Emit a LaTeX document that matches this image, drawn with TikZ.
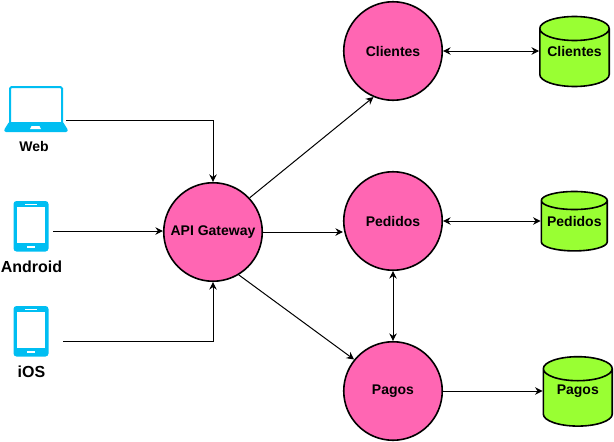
\documentclass[tikz,border=0pt]{standalone}
\usepackage{fontspec}
\setmainfont{Liberation Sans}
\usetikzlibrary{arrows.meta, calc}

\definecolor{iconblue}{HTML}{00BEF2}
\definecolor{servicepink}{HTML}{FF66B3}
\definecolor{dbgreen}{HTML}{99FF33}

\tikzset{
	laptopicon/.pic={
		\draw[iconblue, line width=2, fill=white, rounded corners=1.5] (-26,15) -- (-26,-22) -- (26,-22) -- (26,15);
		\fill[iconblue, rounded corners=1] (-32,21) -- (-27,13) -- (27,13) -- (32,21) -- (31,23) -- (-31,23) -- cycle;
		\fill[white] (-6,20) -- (-4.5,17) -- (3.5,17) -- (5,20) -- cycle;
	},
	phoneicon/.pic={
		\fill[iconblue, rounded corners=3] (-17.5,-25) rectangle (17.5,25.5);
		\fill[white] (-14,-19) rectangle (14,17);
		\fill[white] (-6,-22.5) rectangle (6,-21);
		\fill[white] (-4,20) rectangle (4,22);
	},
	dbase/.style={
		rectangle, inner sep=0, outer sep=0, font=\fontsize{14}{16}\bfseries,
		path picture={
			\draw[line width=1.6, black, fill=dbgreen]
			let \p1=([shift={(0.8,0.8)}]path picture bounding box.north west),
				\p2=([shift={(-0.8,-0.8)}]path picture bounding box.south east),
				\n1={(\x2-\x1)/2} in
			(\x1,\y1-#1pt) arc[start angle=180, end angle=0, x radius=\n1, y radius=#1pt]
			-- (\x2,\y2+#1pt) arc[start angle=0, end angle=-180, x radius=\n1, y radius=#1pt] -- cycle
			(\x2,\y1-#1pt) arc[start angle=0, end angle=-180, x radius=\n1, y radius=#1pt];
		}
	}
}

\begin{document}
\begin{tikzpicture}[x=1pt, y=-1pt, >={Stealth[length=7.5pt, width=7.5pt]}]
	\tikzstyle{service} = [line width=1.6, draw=black, fill=servicepink, circle, minimum size=98.5, inner sep=0, font=\fontsize{14}{16}\bfseries]
	\tikzstyle{device} = [draw=none, font=\fontsize{14}{16}\bfseries]
	\tikzstyle{devicebig} = [draw=none, font=\fontsize{16}{18}\bfseries]
	\tikzstyle{link} = [line width=1, black]

	\useasboundingbox (0,0) rectangle (614,442);

	\pic at (36,109) {laptopicon};
	\pic at (31,226) {phoneicon};
	\pic at (31,331) {phoneicon};

	\node[device]		at (34,146)		(web)		{Web};
	\node[devicebig]	at (31.5,267)	(android)	{Android};
	\node[devicebig]	at (31.5,372)	(ios)		{iOS};

	\coordinate (webout)		at (66,120);
	\coordinate (androidout)	at (53,231);
	\coordinate (iosout)		at (63,341);

	\node[service] at (213,232)	(gateway)	{API Gateway};
	\node[service] at (393,51)	(clientes)	{Clientes};
	\node[service] at (393,221)	(pedidos)	{Pedidos};
	\node[service] at (393,391)	(pagos)		{Pagos};

	\node[dbase=12, minimum width=71, minimum height=71.6] at (574.5,51.5)	(dbclientes)	{Clientes};
	\node[dbase=9, minimum width=67.5, minimum height=61] at (574.3,221.2)	(dbpedidos)		{Pedidos};
	\node[dbase=12, minimum width=70.5, minimum height=71] at (577.8,391.4)	(dbpagos)		{Pagos};

	\draw[link, ->] (webout) -| (gateway.north);
	\draw[link, ->] (androidout) -- (gateway.west |- androidout);
	\draw[link, ->] (iosout) -| (gateway.south);

	\path[link, ->]
	(gateway.43)	edge	(clientes.247)
	(gateway.east)	edge	(pedidos.west |- gateway.east)
	(gateway.-59)	edge	(pagos.141)
	(pagos.east)	edge	(pagos.east -| dbpagos.west);

	\path[link, <->]
	(clientes.east)	edge	(dbclientes.west |- clientes.east)
	(pedidos.east)	edge	(dbpedidos.west |- pedidos.east)
	(pedidos.south)	edge	(pagos.north);
\end{tikzpicture}
\end{document}
